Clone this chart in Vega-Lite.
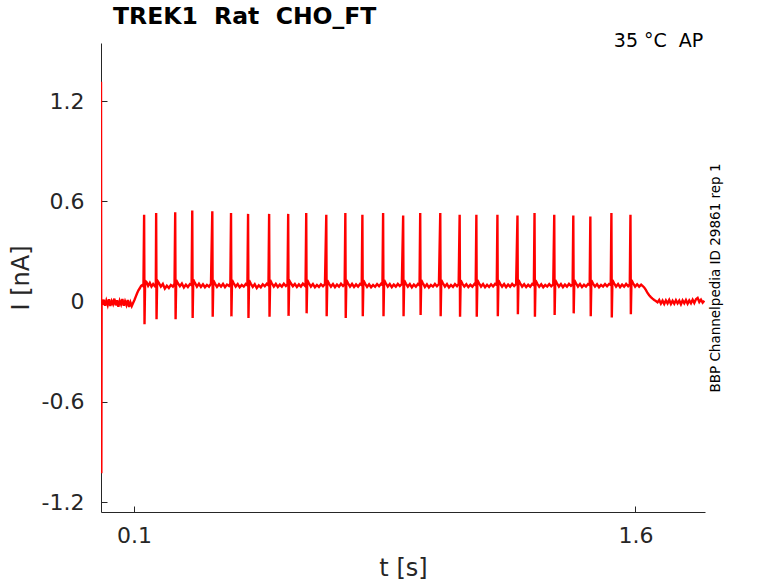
{
  "$schema": "https://vega.github.io/schema/vega-lite/v6.json",
  "autosize": "none",
  "padding": {"left": 101, "top": 43, "right": 73, "bottom": 71},
  "width": 604,
  "height": 469,
  "background": "white",
  "config": {"view": {"stroke": null}, "font": "DejaVu Sans"},
  "title": {
    "text": "TREK1\u00a0\u00a0Rat\u00a0\u00a0CHO_FT",
    "anchor": "start",
    "frame": "group",
    "dx": 12,
    "offset": -15,
    "baseline": "alphabetic",
    "font": "DejaVu Sans",
    "fontSize": 23.5,
    "fontWeight": "bold",
    "color": "#000000"
  },
  "layer": [
    {
      "data": {
        "values": [
          {"t": 0.001, "i": 1.315}, {"t": 0.002, "i": -1.026}, {"t": 0.0028, "i": 0.01},
          {"t": 0.005, "i": -0.018}, {"t": 0.009, "i": 0.012}, {"t": 0.013, "i": -0.024}, {"t": 0.017, "i": 0.006},
          {"t": 0.021, "i": -0.02}, {"t": 0.025, "i": 0.015}, {"t": 0.029, "i": -0.026}, {"t": 0.033, "i": 0.004},
          {"t": 0.037, "i": -0.014}, {"t": 0.041, "i": 0.018}, {"t": 0.045, "i": -0.022}, {"t": 0.049, "i": 0.008},
          {"t": 0.053, "i": -0.03}, {"t": 0.057, "i": 0.005}, {"t": 0.061, "i": -0.016}, {"t": 0.065, "i": 0.016},
          {"t": 0.069, "i": -0.024}, {"t": 0.073, "i": 0.002}, {"t": 0.077, "i": -0.02}, {"t": 0.081, "i": 0.01},
          {"t": 0.085, "i": -0.032}, {"t": 0.089, "i": -0.004}, {"t": 0.093, "i": -0.026}, {"t": 0.097, "i": -0.008},
          {"t": 0.101, "i": 0.01}, {"t": 0.105, "i": 0.03}, {"t": 0.109, "i": 0.05}, {"t": 0.113, "i": 0.068},
          {"t": 0.117, "i": 0.08}, {"t": 0.121, "i": 0.095}, {"t": 0.125, "i": 0.1}, {"t": 0.128, "i": 0.092},
          {"t": 0.13, "i": 0.52}, {"t": 0.1312, "i": -0.135}, {"t": 0.133, "i": 0.125},
          {"t": 0.137, "i": 0.118}, {"t": 0.142, "i": 0.095}, {"t": 0.147, "i": 0.112}, {"t": 0.152, "i": 0.09},
          {"t": 0.157, "i": 0.105}, {"t": 0.162, "i": 0.093}, {"t": 0.165, "i": 0.102},
          {"t": 0.166, "i": 0.53}, {"t": 0.1672, "i": -0.105}, {"t": 0.169, "i": 0.128},
          {"t": 0.174, "i": 0.112}, {"t": 0.18, "i": 0.09}, {"t": 0.186, "i": 0.106}, {"t": 0.192, "i": 0.078},
          {"t": 0.198, "i": 0.095}, {"t": 0.204, "i": 0.082}, {"t": 0.21, "i": 0.1}, {"t": 0.216, "i": 0.09},
          {"t": 0.221, "i": 0.108},
          {"t": 0.223, "i": 0.535}, {"t": 0.2242, "i": -0.105}, {"t": 0.226, "i": 0.13},
          {"t": 0.231, "i": 0.11}, {"t": 0.237, "i": 0.092}, {"t": 0.243, "i": 0.108}, {"t": 0.249, "i": 0.085},
          {"t": 0.255, "i": 0.102}, {"t": 0.261, "i": 0.088}, {"t": 0.267, "i": 0.105}, {"t": 0.272, "i": 0.098},
          {"t": 0.274, "i": 0.545}, {"t": 0.2752, "i": -0.097}, {"t": 0.277, "i": 0.132},
          {"t": 0.282, "i": 0.112}, {"t": 0.288, "i": 0.09}, {"t": 0.294, "i": 0.107}, {"t": 0.3, "i": 0.088},
          {"t": 0.306, "i": 0.104}, {"t": 0.312, "i": 0.086}, {"t": 0.318, "i": 0.1}, {"t": 0.324, "i": 0.09},
          {"t": 0.33, "i": 0.108},
          {"t": 0.334, "i": 0.54}, {"t": 0.3352, "i": -0.09}, {"t": 0.337, "i": 0.128},
          {"t": 0.342, "i": 0.108}, {"t": 0.348, "i": 0.088}, {"t": 0.354, "i": 0.104}, {"t": 0.36, "i": 0.09},
          {"t": 0.366, "i": 0.106}, {"t": 0.372, "i": 0.087}, {"t": 0.378, "i": 0.102}, {"t": 0.384, "i": 0.094},
          {"t": 0.388, "i": 0.11},
          {"t": 0.39, "i": 0.53}, {"t": 0.3912, "i": -0.088}, {"t": 0.393, "i": 0.13},
          {"t": 0.398, "i": 0.11}, {"t": 0.404, "i": 0.09}, {"t": 0.41, "i": 0.105}, {"t": 0.416, "i": 0.086},
          {"t": 0.422, "i": 0.1}, {"t": 0.428, "i": 0.09}, {"t": 0.434, "i": 0.106}, {"t": 0.439, "i": 0.097},
          {"t": 0.441, "i": 0.525}, {"t": 0.4422, "i": -0.097}, {"t": 0.444, "i": 0.128},
          {"t": 0.449, "i": 0.108}, {"t": 0.455, "i": 0.088}, {"t": 0.461, "i": 0.104}, {"t": 0.467, "i": 0.082},
          {"t": 0.473, "i": 0.098}, {"t": 0.479, "i": 0.086}, {"t": 0.485, "i": 0.104}, {"t": 0.491, "i": 0.092},
          {"t": 0.497, "i": 0.107}, {"t": 0.502, "i": 0.098},
          {"t": 0.504, "i": 0.525}, {"t": 0.5052, "i": -0.09}, {"t": 0.507, "i": 0.13},
          {"t": 0.512, "i": 0.11}, {"t": 0.518, "i": 0.09}, {"t": 0.524, "i": 0.106}, {"t": 0.53, "i": 0.088},
          {"t": 0.536, "i": 0.102}, {"t": 0.542, "i": 0.09}, {"t": 0.548, "i": 0.107}, {"t": 0.554, "i": 0.094},
          {"t": 0.559, "i": 0.104},
          {"t": 0.561, "i": 0.525}, {"t": 0.5622, "i": -0.085}, {"t": 0.564, "i": 0.128},
          {"t": 0.569, "i": 0.11}, {"t": 0.575, "i": 0.092}, {"t": 0.581, "i": 0.106}, {"t": 0.587, "i": 0.088},
          {"t": 0.593, "i": 0.103}, {"t": 0.599, "i": 0.09}, {"t": 0.605, "i": 0.108}, {"t": 0.611, "i": 0.096},
          {"t": 0.613, "i": 0.104},
          {"t": 0.615, "i": 0.53}, {"t": 0.6162, "i": -0.07}, {"t": 0.618, "i": 0.13},
          {"t": 0.623, "i": 0.11}, {"t": 0.629, "i": 0.09}, {"t": 0.635, "i": 0.105}, {"t": 0.641, "i": 0.086},
          {"t": 0.647, "i": 0.1}, {"t": 0.653, "i": 0.088}, {"t": 0.659, "i": 0.104}, {"t": 0.665, "i": 0.092},
          {"t": 0.671, "i": 0.106},
          {"t": 0.675, "i": 0.52}, {"t": 0.6762, "i": -0.087}, {"t": 0.678, "i": 0.128},
          {"t": 0.683, "i": 0.108}, {"t": 0.689, "i": 0.09}, {"t": 0.695, "i": 0.105}, {"t": 0.701, "i": 0.087},
          {"t": 0.707, "i": 0.102}, {"t": 0.713, "i": 0.09}, {"t": 0.719, "i": 0.107}, {"t": 0.725, "i": 0.094},
          {"t": 0.73, "i": 0.105},
          {"t": 0.732, "i": 0.53}, {"t": 0.7332, "i": -0.097}, {"t": 0.735, "i": 0.13},
          {"t": 0.74, "i": 0.11}, {"t": 0.746, "i": 0.09}, {"t": 0.752, "i": 0.106}, {"t": 0.758, "i": 0.088},
          {"t": 0.764, "i": 0.103}, {"t": 0.77, "i": 0.09}, {"t": 0.776, "i": 0.106}, {"t": 0.781, "i": 0.098},
          {"t": 0.783, "i": 0.52}, {"t": 0.7842, "i": -0.087}, {"t": 0.786, "i": 0.128},
          {"t": 0.791, "i": 0.108}, {"t": 0.797, "i": 0.088}, {"t": 0.803, "i": 0.104}, {"t": 0.809, "i": 0.086},
          {"t": 0.815, "i": 0.1}, {"t": 0.821, "i": 0.089}, {"t": 0.827, "i": 0.105}, {"t": 0.833, "i": 0.092},
          {"t": 0.839, "i": 0.107}, {"t": 0.843, "i": 0.1},
          {"t": 0.845, "i": 0.53}, {"t": 0.8462, "i": -0.087}, {"t": 0.848, "i": 0.13},
          {"t": 0.853, "i": 0.11}, {"t": 0.859, "i": 0.09}, {"t": 0.865, "i": 0.105}, {"t": 0.871, "i": 0.087},
          {"t": 0.877, "i": 0.102}, {"t": 0.883, "i": 0.09}, {"t": 0.889, "i": 0.106}, {"t": 0.895, "i": 0.093},
          {"t": 0.901, "i": 0.105},
          {"t": 0.905, "i": 0.515}, {"t": 0.9062, "i": -0.087}, {"t": 0.908, "i": 0.128},
          {"t": 0.913, "i": 0.108}, {"t": 0.919, "i": 0.09}, {"t": 0.925, "i": 0.105}, {"t": 0.931, "i": 0.086},
          {"t": 0.937, "i": 0.102}, {"t": 0.943, "i": 0.09}, {"t": 0.949, "i": 0.106}, {"t": 0.954, "i": 0.097},
          {"t": 0.956, "i": 0.53}, {"t": 0.9572, "i": -0.08}, {"t": 0.959, "i": 0.13},
          {"t": 0.964, "i": 0.11}, {"t": 0.97, "i": 0.088}, {"t": 0.976, "i": 0.104}, {"t": 0.982, "i": 0.085},
          {"t": 0.988, "i": 0.1}, {"t": 0.994, "i": 0.09}, {"t": 1.0, "i": 0.106}, {"t": 1.006, "i": 0.092},
          {"t": 1.012, "i": 0.105},
          {"t": 1.016, "i": 0.53}, {"t": 1.0172, "i": -0.087}, {"t": 1.019, "i": 0.13},
          {"t": 1.024, "i": 0.11}, {"t": 1.03, "i": 0.09}, {"t": 1.036, "i": 0.105}, {"t": 1.042, "i": 0.085},
          {"t": 1.048, "i": 0.1}, {"t": 1.054, "i": 0.088}, {"t": 1.06, "i": 0.105}, {"t": 1.066, "i": 0.093},
          {"t": 1.071, "i": 0.106},
          {"t": 1.074, "i": 0.52}, {"t": 1.0752, "i": -0.09}, {"t": 1.077, "i": 0.128},
          {"t": 1.082, "i": 0.108}, {"t": 1.088, "i": 0.09}, {"t": 1.094, "i": 0.104}, {"t": 1.1, "i": 0.087},
          {"t": 1.106, "i": 0.101}, {"t": 1.112, "i": 0.09}, {"t": 1.118, "i": 0.106}, {"t": 1.122, "i": 0.099},
          {"t": 1.124, "i": 0.52}, {"t": 1.1252, "i": -0.09}, {"t": 1.127, "i": 0.13},
          {"t": 1.132, "i": 0.11}, {"t": 1.138, "i": 0.09}, {"t": 1.144, "i": 0.105}, {"t": 1.15, "i": 0.086},
          {"t": 1.156, "i": 0.101}, {"t": 1.162, "i": 0.088}, {"t": 1.168, "i": 0.104}, {"t": 1.174, "i": 0.091},
          {"t": 1.18, "i": 0.106}, {"t": 1.185, "i": 0.1},
          {"t": 1.187, "i": 0.52}, {"t": 1.1882, "i": -0.087}, {"t": 1.19, "i": 0.128},
          {"t": 1.195, "i": 0.108}, {"t": 1.201, "i": 0.09}, {"t": 1.207, "i": 0.105}, {"t": 1.213, "i": 0.087},
          {"t": 1.219, "i": 0.102}, {"t": 1.225, "i": 0.09}, {"t": 1.231, "i": 0.106}, {"t": 1.237, "i": 0.093},
          {"t": 1.243, "i": 0.105},
          {"t": 1.247, "i": 0.515}, {"t": 1.2482, "i": -0.075}, {"t": 1.25, "i": 0.13},
          {"t": 1.255, "i": 0.11}, {"t": 1.261, "i": 0.09}, {"t": 1.267, "i": 0.104}, {"t": 1.273, "i": 0.087},
          {"t": 1.279, "i": 0.101}, {"t": 1.285, "i": 0.09}, {"t": 1.291, "i": 0.106}, {"t": 1.296, "i": 0.098},
          {"t": 1.298, "i": 0.53}, {"t": 1.2992, "i": -0.09}, {"t": 1.301, "i": 0.128},
          {"t": 1.306, "i": 0.108}, {"t": 1.312, "i": 0.089}, {"t": 1.318, "i": 0.104}, {"t": 1.324, "i": 0.086},
          {"t": 1.33, "i": 0.1}, {"t": 1.336, "i": 0.09}, {"t": 1.342, "i": 0.105}, {"t": 1.348, "i": 0.092},
          {"t": 1.354, "i": 0.104},
          {"t": 1.357, "i": 0.52}, {"t": 1.3582, "i": -0.08}, {"t": 1.36, "i": 0.13},
          {"t": 1.365, "i": 0.11}, {"t": 1.371, "i": 0.09}, {"t": 1.377, "i": 0.105}, {"t": 1.383, "i": 0.087},
          {"t": 1.389, "i": 0.102}, {"t": 1.395, "i": 0.09}, {"t": 1.401, "i": 0.106}, {"t": 1.407, "i": 0.094},
          {"t": 1.412, "i": 0.103},
          {"t": 1.414, "i": 0.515}, {"t": 1.4152, "i": -0.07}, {"t": 1.417, "i": 0.13},
          {"t": 1.422, "i": 0.11}, {"t": 1.428, "i": 0.09}, {"t": 1.434, "i": 0.105}, {"t": 1.44, "i": 0.087},
          {"t": 1.446, "i": 0.101}, {"t": 1.452, "i": 0.09}, {"t": 1.458, "i": 0.105}, {"t": 1.463, "i": 0.098},
          {"t": 1.465, "i": 0.51}, {"t": 1.4662, "i": -0.087}, {"t": 1.468, "i": 0.128},
          {"t": 1.473, "i": 0.108}, {"t": 1.479, "i": 0.09}, {"t": 1.485, "i": 0.104}, {"t": 1.491, "i": 0.086},
          {"t": 1.497, "i": 0.1}, {"t": 1.503, "i": 0.09}, {"t": 1.509, "i": 0.105}, {"t": 1.515, "i": 0.092},
          {"t": 1.521, "i": 0.106}, {"t": 1.526, "i": 0.1},
          {"t": 1.528, "i": 0.53}, {"t": 1.5292, "i": -0.095}, {"t": 1.531, "i": 0.13},
          {"t": 1.536, "i": 0.11}, {"t": 1.542, "i": 0.09}, {"t": 1.548, "i": 0.105}, {"t": 1.554, "i": 0.087},
          {"t": 1.56, "i": 0.102}, {"t": 1.566, "i": 0.09}, {"t": 1.572, "i": 0.106}, {"t": 1.578, "i": 0.093},
          {"t": 1.583, "i": 0.104},
          {"t": 1.585, "i": 0.52}, {"t": 1.5862, "i": -0.075}, {"t": 1.588, "i": 0.13},
          {"t": 1.593, "i": 0.11}, {"t": 1.599, "i": 0.09}, {"t": 1.605, "i": 0.104}, {"t": 1.611, "i": 0.09},
          {"t": 1.617, "i": 0.102}, {"t": 1.621, "i": 0.095}, {"t": 1.626, "i": 0.085}, {"t": 1.631, "i": 0.07},
          {"t": 1.636, "i": 0.052}, {"t": 1.641, "i": 0.038}, {"t": 1.646, "i": 0.027}, {"t": 1.651, "i": 0.018},
          {"t": 1.656, "i": 0.01}, {"t": 1.661, "i": 0.004}, {"t": 1.666, "i": -0.004}, {"t": 1.671, "i": 0.01},
          {"t": 1.676, "i": -0.012}, {"t": 1.681, "i": 0.006}, {"t": 1.686, "i": -0.014}, {"t": 1.691, "i": 0.008},
          {"t": 1.696, "i": -0.01}, {"t": 1.701, "i": 0.01}, {"t": 1.706, "i": -0.014}, {"t": 1.711, "i": 0.005},
          {"t": 1.716, "i": -0.012}, {"t": 1.721, "i": 0.009}, {"t": 1.726, "i": -0.01}, {"t": 1.731, "i": 0.006},
          {"t": 1.736, "i": -0.016}, {"t": 1.741, "i": 0.007}, {"t": 1.746, "i": -0.01}, {"t": 1.751, "i": 0.01},
          {"t": 1.756, "i": -0.012}, {"t": 1.761, "i": 0.007}, {"t": 1.766, "i": -0.009}, {"t": 1.771, "i": 0.012},
          {"t": 1.776, "i": -0.008}, {"t": 1.781, "i": 0.014}, {"t": 1.786, "i": 0.022}, {"t": 1.791, "i": -0.002},
          {"t": 1.796, "i": 0.012}, {"t": 1.801, "i": -0.006}, {"t": 1.806, "i": 0.006}
        ]
      },
      "mark": {"type": "line", "color": "#ff0000", "strokeWidth": 2.4, "clip": true},
      "encoding": {
        "x": {
          "field": "t",
          "type": "quantitative",
          "scale": {"domain": [0.001, 1.808], "nice": false, "zero": false},
          "axis": {
            "title": "t [s]",
            "values": [0.1, 1.6],
            "format": ".1f",
            "grid": false,
            "domainColor": "#262626",
            "tickColor": "#262626",
            "tickSize": -6,
            "labelPadding": 19,
            "labelFont": "DejaVu Sans",
            "labelFontSize": 22,
            "labelColor": "#262626",
            "titleFont": "DejaVu Sans",
            "titleFontSize": 24,
            "titleFontWeight": "normal",
            "titleColor": "#262626",
            "titlePadding": 10
          }
        },
        "y": {
          "field": "i",
          "type": "quantitative",
          "scale": {"domain": [-1.258, 1.547], "nice": false, "zero": false},
          "axis": {
            "title": "I [nA]",
            "values": [-1.2, -0.6, 0, 0.6, 1.2],
            "labelExpr": "'' + datum.value",
            "grid": false,
            "domainColor": "#262626",
            "tickColor": "#262626",
            "tickSize": -6,
            "labelPadding": 23,
            "labelFont": "DejaVu Sans",
            "labelFontSize": 22,
            "labelColor": "#262626",
            "titleFont": "DejaVu Sans",
            "titleFontSize": 24,
            "titleFontWeight": "normal",
            "titleColor": "#262626",
            "titlePadding": 8
          }
        }
      }
    },
    {
      "data": {"values": [{"label": "35 °C\u00a0\u00a0AP"}]},
      "mark": {
        "type": "text",
        "align": "right",
        "baseline": "alphabetic",
        "font": "DejaVu Sans",
        "fontSize": 19,
        "color": "#000000"
      },
      "encoding": {
        "text": {"field": "label"},
        "x": {"datum": 1.803, "type": "quantitative"},
        "y": {
          "datum": 1.523,
          "type": "quantitative",
          "scale": {"domain": [-1.258, 1.547], "nice": false, "zero": false},
          "axis": {
            "orient": "right",
            "title": "BBP Channelpedia ID 29861 rep 1",
            "titleAngle": 270,
            "titleFont": "DejaVu Sans",
            "titleFontSize": 13.5,
            "titleFontWeight": "normal",
            "titleColor": "#000000",
            "titlePadding": 17,
            "domain": false,
            "ticks": false,
            "labels": false,
            "grid": false
          }
        }
      }
    }
  ],
  "resolve": {"scale": {"y": "independent"}}
}
